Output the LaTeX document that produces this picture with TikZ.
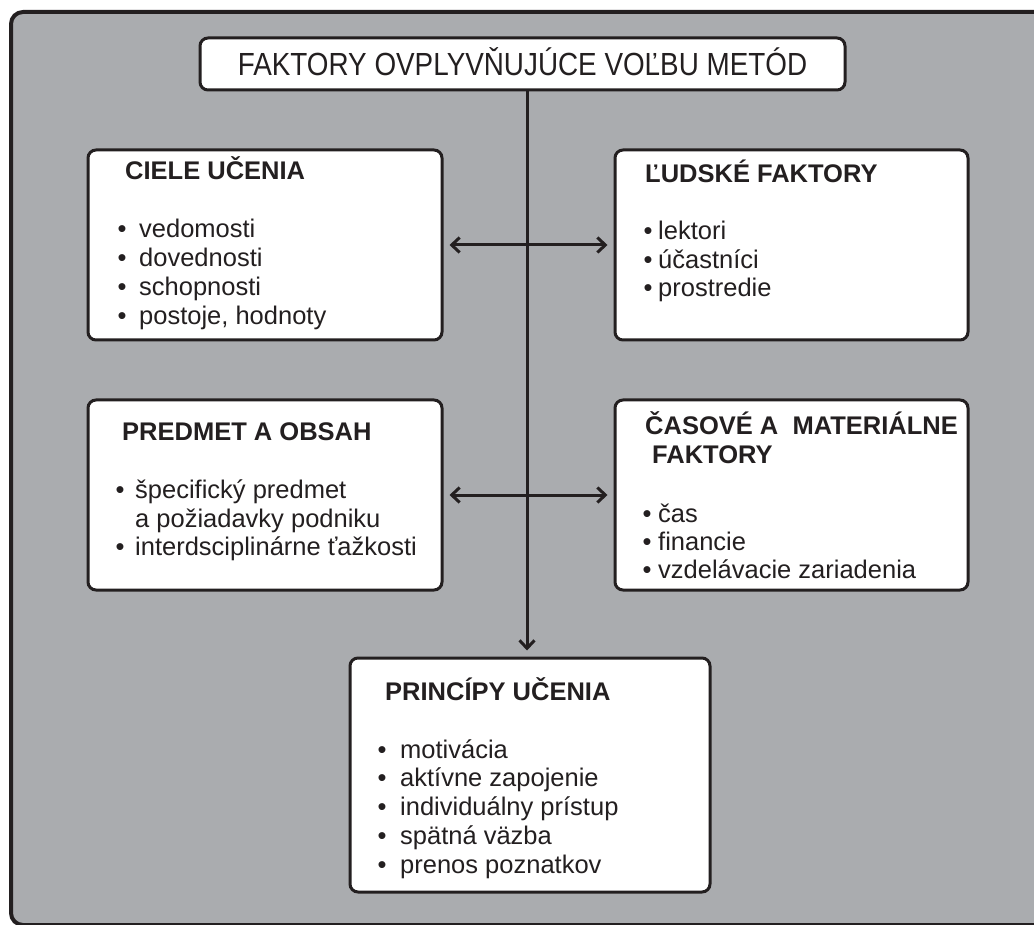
\documentclass[tikz,border=0pt]{standalone}
\usepackage{fontspec}
\setmainfont{Liberation Sans}
\newfontfamily\titlefont[FakeStretch=0.87]{Liberation Sans}
\usetikzlibrary{arrows.meta}
\definecolor{panel}{HTML}{AAACAF}
\definecolor{ink}{HTML}{231F20}
\begin{document}
\begin{tikzpicture}[x=1pt,y=-1pt,
  box/.style={draw=ink, line width=3pt, fill=white, rounded corners=8pt, inner sep=0pt},
  head/.style={anchor=base west, inner sep=0pt, text=ink, font=\fontsize{25.5}{30}\bfseries},
  item/.style={anchor=base west, inner sep=0pt, text=ink, font=\fontsize{25.5}{30}\selectfont},
  dotmark/.style={anchor=base, inner sep=0pt, text=ink, font=\fontsize{25.5}{30}\selectfont},
  tip/.tip={Straight Barb[length=8pt,width=15pt]},
  link/.style={draw=ink, line width=3pt, {tip}-{tip}, shorten <=6pt, shorten >=6pt},
  flow/.style={draw=ink, line width=3pt, -{tip}, shorten >=6pt}]
% page and grey panel
\clip (0,0) rectangle (1034,925);
\fill[white] (0,0) rectangle (1034,925);
\draw[draw=ink, fill=panel, line width=4pt, rounded corners=12pt] (11,12) rectangle (1070,925);

% boxes
\node[box, minimum width=645pt, minimum height=52pt, text=ink,
      font=\titlefont\fontsize{32}{36}\selectfont, text height=23pt, text depth=0pt]
  (title) at (522.5,64) {FAKTORY OVPLYVŇUJÚCE VOĽBU METÓD};
\node[box, minimum width=354pt, minimum height=190pt] (ciele) at (265,245) {};
\node[box, minimum width=353pt, minimum height=190pt] (ludske) at (791.5,245) {};
\node[box, minimum width=354pt, minimum height=190pt] (predmet) at (265,495) {};
\node[box, minimum width=353pt, minimum height=190pt] (casove) at (791.5,495) {};
\node[box, minimum width=360pt, minimum height=234pt] (principy) at (530,775) {};

% connectors
\coordinate (spine) at (527,0);
\draw[flow] (title.south -| spine) -- (principy.north -| spine);
\draw[link] (ciele.east) -- (ludske.west);
\draw[link] (predmet.east) -- (casove.west);

% CIELE UČENIA
\node[head] (ciele-h) at (125,180) {CIELE UČENIA};
\foreach \t [count=\i from 0] in {vedomosti, dovednosti, schopnosti, {postoje, hodnoty}} {
  \node[dotmark] (ciele-b\i) at (122,238+28.7*\i) {•};
  \node[item] (ciele-\i) at (139,238+28.7*\i) {\t};
}

% ĽUDSKÉ FAKTORY
\node[head] (ludske-h) at (645,183) {ĽUDSKÉ FAKTORY};
\foreach \t [count=\i from 0] in {lektori, účastníci, prostredie} {
  \node[dotmark] (ludske-b\i) at (648,240+28.5*\i) {•};
  \node[item] (ludske-\i) at (658,240+28.5*\i) {\t};
}

% PREDMET A OBSAH
\node[head] (predmet-h) at (122,440) {PREDMET A OBSAH};
\node[dotmark] (predmet-b0) at (120,498) {•};
\node[item] (predmet-0) at (135,498) {špecifický predmet};
\node[item] (predmet-1) at (135,527) {a požiadavky podniku};
\node[dotmark] (predmet-b2) at (120,555.5) {•};
\node[item] (predmet-2) at (135,555.5) {interdsciplinárne ťažkosti};

% ČASOVÉ A MATERIÁLNE FAKTORY
\node[head] (casove-h1) at (645,435) {ČASOVÉ A~~MATERIÁLNE};
\node[head] (casove-h2) at (652,463) {FAKTORY};
\foreach \t [count=\i from 0] in {čas, financie, vzdelávacie zariadenia} {
  \node[dotmark] (casove-b\i) at (647,522+28*\i) {•};
  \node[item] (casove-\i) at (658,522+28*\i) {\t};
}

% PRINCÍPY UČENIA
\node[head] (principy-h) at (385,700) {PRINCÍPY UČENIA};
\foreach \t [count=\i from 0] in {motivácia, aktívne zapojenie, individuálny prístup, spätná väzba, prenos poznatkov} {
  \node[dotmark] (principy-b\i) at (382,758+28.8*\i) {•};
  \node[item] (principy-\i) at (400,758+28.8*\i) {\t};
}
\end{tikzpicture}
\end{document}
